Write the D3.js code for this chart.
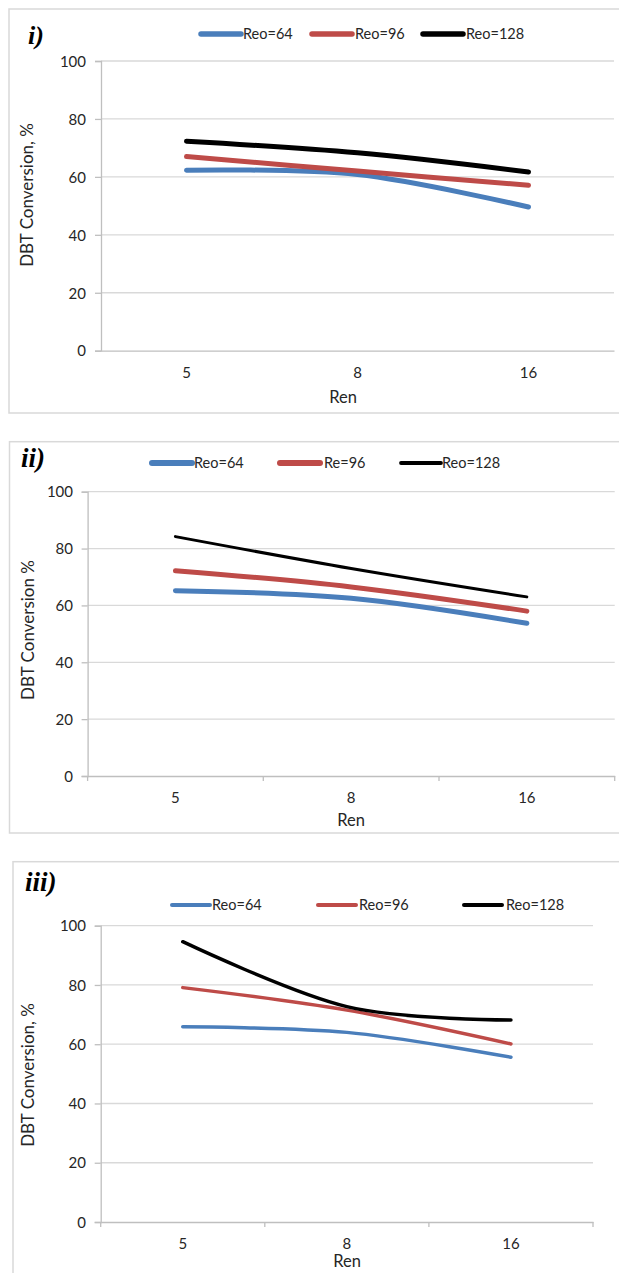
<!DOCTYPE html>
<html><head><meta charset="utf-8">
<script src="https://cdn.jsdelivr.net/npm/d3@7"></script>
<style>html,body{margin:0;padding:0;background:#fff;}svg{display:block;}</style>
</head><body>
<svg id="chart" width="619" height="1273"></svg>
<script>
// ---------- data ----------
const categories = ["5", "8", "16"];
const yTicks = [0, 20, 40, 60, 80, 100];

const panelINames = ["Reo=64", "Reo=96", "Reo=128"];
const panelI_Reo64  = [62.3, 60.8, 49.6];
const panelI_Reo96  = [67.0, 62.0, 57.1];
const panelI_Reo128 = [72.3, 68.3, 61.7];

const panelIINames = ["Reo=64", "Re=96", "Reo=128"];
const panelII_Reo64  = [65.2, 62.5, 53.7];
const panelII_Re96   = [72.2, 66.5, 58.0];
const panelII_Reo128 = [84.2, 73.0, 63.0];

const panelIIINames = ["Reo=64", "Reo=96", "Reo=128"];
const panelIII_Reo64  = [65.9, 64.0, 55.6];
const panelIII_Reo96  = [79.1, 71.5, 60.1];
const panelIII_Reo128 = [94.6, 72.7, 68.2];

const seriesColors = ["#4a7ebb", "#be4b48", "#000000"];

// ---------- layout ----------
const panels = [
  { title: "i)", titleSize: 26, titleX: 28, titleY: 35,
    frame: {x: 9, y: 9, b: 413},
    plot: {l: 101, r: 614, t: 61, b: 350.7},
    names: panelINames, values: [panelI_Reo64, panelI_Reo96, panelI_Reo128],
    widths: [5, 5, 5], legendWidths: [5.5, 5.5, 5.5],
    legendY: 34, legendLX: [201, 312, 423], legendTX: [243, 355, 466], legendLen: 40,
    xTicks: false, xLabelY: 373, renX: 343, renY: 397,
    yLabel: "DBT Conversion, %", yLabelX: 27, yLabelY: 195, tickLabelEnd: 86 },
  { title: "ii)", titleSize: 27, titleX: 21, titleY: 458,
    frame: {x: 9.5, y: 441.7, b: 833},
    plot: {l: 87.6, r: 614.7, t: 491.7, b: 776},
    names: panelIINames, values: [panelII_Reo64, panelII_Re96, panelII_Reo128],
    widths: [5, 5, 3], legendWidths: [6, 6, 3.8],
    legendY: 463, legendLX: [152, 280, 401], legendTX: [194, 324, 442], legendLen: 40,
    xTicks: true, xLabelY: 798, renX: 351, renY: 820,
    yLabel: "DBT Conversion %", yLabelX: 27.6, yLabelY: 630, tickLabelEnd: 73 },
  { title: "iii)", titleSize: 27, titleX: 25, titleY: 882,
    frame: {x: 13, y: 861.7, b: 1300},
    plot: {l: 100.7, r: 593, t: 925.7, b: 1222},
    names: panelIIINames, values: [panelIII_Reo64, panelIII_Reo96, panelIII_Reo128],
    widths: [3.5, 3.5, 3.5], legendWidths: [4, 4, 4],
    legendY: 905, legendLX: [172, 318, 464], legendTX: [212, 359, 506], legendLen: 38,
    xTicks: true, xLabelY: 1244, renX: 347, renY: 1261,
    yLabel: "DBT Conversion, %", yLabelX: 28.4, yLabelY: 1075, tickLabelEnd: 86 }
];

const svg = d3.select("#chart");
svg.append("rect").attr("width", 619).attr("height", 1273).attr("fill", "#fff");

const FONT = "Lato, 'Open Sans', sans-serif";

panels.forEach(p => {
  const g = svg.append("g");
  // frame
  g.append("rect")
    .attr("x", p.frame.x).attr("y", p.frame.y)
    .attr("width", 700).attr("height", p.frame.b - p.frame.y)
    .attr("fill", "none").attr("stroke", "#d9d9d9").attr("stroke-width", 1.5);

  const x = d3.scaleBand().domain(categories).range([p.plot.l, p.plot.r]);
  const y = d3.scaleLinear().domain([0, 100]).range([p.plot.b, p.plot.t]);

  // gridlines
  g.selectAll(".grid").data(yTicks.filter(d => d > 0)).enter().append("line")
    .attr("x1", p.plot.l).attr("x2", p.plot.r)
    .attr("y1", d => y(d)).attr("y2", d => y(d))
    .attr("stroke", "#d9d9d9").attr("stroke-width", 1.3);

  // y axis
  const yAxis = d3.axisLeft(y).tickValues(yTicks).tickSize(6).tickPadding(0).tickFormat(d3.format("d"));
  const ya = g.append("g").attr("transform", `translate(${p.plot.l},0)`).call(yAxis);
  ya.select(".domain").attr("stroke", "#bfbfbf").attr("stroke-width", 1.3);
  ya.selectAll(".tick line").attr("stroke", "#bfbfbf").attr("stroke-width", 1.3);
  ya.selectAll(".tick text")
    .attr("x", p.tickLabelEnd - p.plot.l).attr("dy", "0.35em")
    .attr("font-family", FONT).attr("font-size", 15).attr("fill", "#262626");

  // x axis
  const xAxis = d3.axisBottom(x).tickSize(0).tickPadding(0);
  const xa = g.append("g").attr("transform", `translate(0,${p.plot.b})`).call(xAxis);
  xa.select(".domain").attr("stroke", "#bfbfbf").attr("stroke-width", 1.3);
  xa.selectAll(".tick line").remove();
  xa.selectAll(".tick text")
    .attr("y", p.xLabelY - p.plot.b).attr("dy", "0.35em")
    .attr("font-family", FONT).attr("font-size", 15).attr("fill", "#262626");
  if (p.xTicks) {
    const bounds = categories.map(c => x(c)).concat([p.plot.r]);
    g.selectAll(".xt").data(bounds).enter().append("line")
      .attr("x1", d => d).attr("x2", d => d)
      .attr("y1", p.plot.b).attr("y2", p.plot.b + 5)
      .attr("stroke", "#bfbfbf").attr("stroke-width", 1.3);
  }

  // axis titles
  g.append("text").attr("x", p.renX).attr("y", p.renY).attr("dy", "0.35em")
    .attr("text-anchor", "middle").attr("font-family", FONT).attr("font-size", 16.5)
    .attr("fill", "#262626").text("Ren");
  g.append("text")
    .attr("transform", `translate(${p.yLabelX},${p.yLabelY}) rotate(-90)`)
    .attr("dy", "0.35em").attr("text-anchor", "middle")
    .attr("font-family", FONT).attr("font-size", 17).attr("fill", "#262626")
    .text(p.yLabel);

  // panel title
  g.append("text").attr("x", p.titleX).attr("y", p.titleY).attr("dy", "0.35em")
    .attr("font-family", "'Liberation Serif', 'Times New Roman', serif")
    .attr("font-weight", "bold").attr("font-style", "italic")
    .attr("font-size", p.titleSize).attr("fill", "#000").text(p.title);

  // lines
  const line = d3.line()
    .x((d, i) => x(categories[i]) + x.bandwidth() / 2)
    .y(d => y(d))
    .curve(d3.curveCardinal.tension(0));
  p.values.forEach((vals, k) => {
    g.append("path").datum(vals).attr("d", line)
      .attr("fill", "none").attr("stroke", seriesColors[k])
      .attr("stroke-width", p.widths[k]).attr("stroke-linecap", "round")
      .attr("stroke-linejoin", "round");
  });

  // legend
  p.names.forEach((name, k) => {
    g.append("line")
      .attr("x1", p.legendLX[k]).attr("x2", p.legendLX[k] + p.legendLen)
      .attr("y1", p.legendY).attr("y2", p.legendY)
      .attr("stroke", seriesColors[k]).attr("stroke-width", p.legendWidths[k])
      .attr("stroke-linecap", "round");
    g.append("text").attr("x", p.legendTX[k]).attr("y", p.legendY).attr("dy", "0.35em")
      .attr("font-family", FONT).attr("font-size", 14.5).attr("fill", "#262626").text(name);
  });
});
</script>
</body></html>
